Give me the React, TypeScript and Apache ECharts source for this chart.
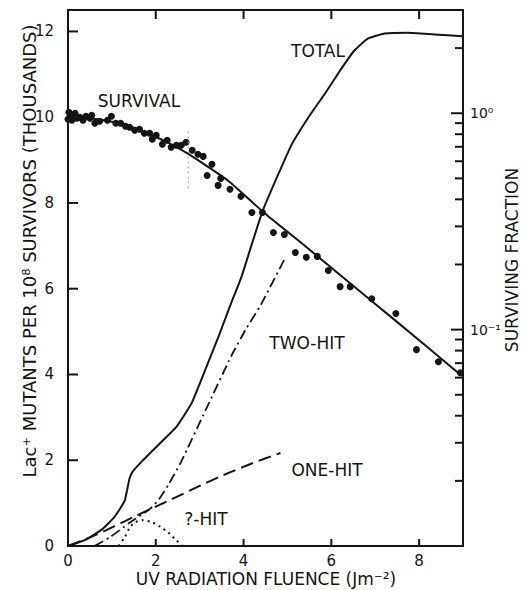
import React, { useEffect, useRef } from "react";
import * as echarts from "echarts";

const FONT = '"DejaVu Sans", "Liberation Sans", sans-serif';
const INK = "#151515";

// axis ticks
const xTickValues = [0, 2, 4, 6, 8];
const leftTickValues = [0, 2, 4, 6, 8, 10, 12];
const rightMajorTicks = [0.01, 0.1, 1];
const rightMinorTicks = [2, 0.9, 0.8, 0.7, 0.6, 0.5, 0.4, 0.3, 0.2, 0.09, 0.08, 0.07, 0.06, 0.05, 0.04, 0.03, 0.02];

// mutants per 1e8 survivors (thousands) vs fluence (J m^-2)
const totalCurve = [
  [0, 0], [0.43, 0.16], [0.79, 0.4], [1.06, 0.68], [1.29, 1.05], [1.4, 1.57], [1.47, 1.73],
  [1.7, 1.99], [2.08, 2.38], [2.47, 2.78], [2.71, 3.15], [2.83, 3.36], [3.14, 4.14], [3.44, 4.91],
  [3.73, 5.7], [3.94, 6.24], [4.43, 7.8], [5.09, 9.35], [5.48, 10.0], [5.86, 10.56], [6.22, 11.12],
  [6.52, 11.55], [6.83, 11.83], [7.22, 11.95], [7.74, 11.97], [8.35, 11.93], [8.98, 11.89],
];
const twoHitCurve = [
  [0.6, 0], [0.95, 0.2], [1.4, 0.54], [1.86, 0.86], [2.08, 1.1], [2.3, 1.45], [2.58, 1.97],
  [3.14, 3.18], [3.73, 4.45], [4.05, 5.05], [4.39, 5.62], [4.95, 6.72],
];
const oneHitCurve = [
  [0, 0], [0.6, 0.24], [1.5, 0.68], [2.3, 1.06], [3.0, 1.4], [3.6, 1.68], [4.2, 1.93], [4.84, 2.17],
];
const qHitCurve = [
  [1.15, 0], [1.3, 0.22], [1.42, 0.45], [1.55, 0.56], [1.7, 0.6], [1.9, 0.56], [2.1, 0.45],
  [2.3, 0.3], [2.45, 0.15], [2.6, 0.02],
];
const markerBar = [[2.74, 8.34], [2.74, 9.74]];

// surviving fraction (log scale)
const survivalCurve = [
  [0, 0.968], [0.5, 0.948], [0.95, 0.918], [1.4, 0.871], [1.86, 0.8], [2.31, 0.726], [2.76, 0.646],
  [3.21, 0.562], [3.67, 0.484], [4.46, 0.348], [5.25, 0.258], [6.38, 0.167], [7.51, 0.108], [8.94, 0.0619],
];
const survivalPoints = [
  [0.02, 1.01], [0.0, 0.938], [0.05, 0.979], [0.09, 0.928], [0.16, 1.0], [0.2, 0.948], [0.27, 0.958],
  [0.34, 0.928], [0.41, 0.969], [0.5, 0.948], [0.54, 0.979], [0.61, 0.899], [0.72, 0.918], [0.9, 0.928],
  [0.99, 0.969], [1.09, 0.899], [1.2, 0.899], [1.31, 0.871], [1.4, 0.861], [1.52, 0.834], [1.63, 0.843],
  [1.74, 0.808], [1.86, 0.808], [1.92, 0.758], [2.01, 0.791], [2.15, 0.719], [2.26, 0.75], [2.35, 0.696],
  [2.47, 0.711], [2.58, 0.711], [2.69, 0.734], [2.83, 0.674], [2.96, 0.646], [3.08, 0.632], [3.17, 0.516],
  [3.28, 0.581], [3.42, 0.464], [3.48, 0.5], [3.69, 0.445], [3.94, 0.413], [4.19, 0.348], [4.43, 0.348],
  [4.68, 0.281], [4.93, 0.275], [5.18, 0.227], [5.43, 0.216], [5.68, 0.218], [5.93, 0.1875], [6.2, 0.158],
  [6.43, 0.158], [6.92, 0.139], [7.47, 0.1186], [7.94, 0.0808], [8.44, 0.0711], [8.94, 0.0632],
];

const annotations = [
  { text: "SURVIVAL", x: 139, y: 101 },
  { text: "TOTAL", x: 318, y: 51 },
  { text: "TWO-HIT", x: 307, y: 343 },
  { text: "ONE-HIT", x: 327, y: 470 },
  { text: "?-HIT", x: 206, y: 519 },
];

const X_MAX = 9;
const LEFT_MAX = 12.5;

const near = (v: number, t: number) => Math.abs(v - t) < 1e-6 * Math.max(1, Math.abs(t));

// a custom series that draws inward tick marks at data positions
function tickSeries(name: string, yAxisIndex: number, data: number[][], dx: number, dy: number, w: number, h: number) {
  return {
    type: "custom",
    name,
    xAxisIndex: 0,
    yAxisIndex,
    silent: true,
    clip: false,
    z: 10,
    data,
    renderItem: (_p: any, api: any) => {
      const pt = api.coord([api.value(0), api.value(1)]);
      return {
        type: "rect",
        shape: { x: pt[0] + dx, y: pt[1] + dy, width: w, height: h },
        style: { fill: INK },
      };
    },
  };
}

export default function App() {
  const ref = useRef<HTMLDivElement>(null);
  useEffect(() => {
    document.body.style.margin = "0";
    const chart = echarts.init(ref.current!, null, { renderer: "svg" });
    const lineBase = {
      type: "line",
      showSymbol: false,
      symbol: "none",
      silent: true,
      xAxisIndex: 0,
    };
    const axisLine = { show: true, onZero: false, lineStyle: { color: INK, width: 2 } };
    chart.setOption({
      animation: false,
      backgroundColor: "#ffffff",
      textStyle: { fontFamily: FONT, color: INK },
      grid: { left: 68, right: 66, top: 10, bottom: 44, containLabel: false, outerBoundsMode: "none" },
      xAxis: [
        {
          type: "value",
          min: 0,
          max: X_MAX,
          interval: 2,
          position: "bottom",
          splitLine: { show: false },
          axisLine,
          axisTick: { show: false },
          axisLabel: {
            margin: 7,
            fontSize: 15,
            fontFamily: FONT,
            color: INK,
            formatter: (v: number) => (xTickValues.some((t) => near(v, t)) ? String(v) : ""),
          },
        },
        {
          type: "value",
          min: 0,
          max: X_MAX,
          interval: 2,
          position: "top",
          splitLine: { show: false },
          axisLine,
          axisTick: { show: false },
          axisLabel: { show: false },
        },
      ],
      yAxis: [
        {
          type: "value",
          min: 0,
          max: LEFT_MAX,
          interval: 2,
          position: "left",
          splitLine: { show: false },
          axisLine,
          axisTick: { show: false },
          axisLabel: {
            margin: 14,
            fontSize: 15,
            fontFamily: FONT,
            color: INK,
            formatter: (v: number) => (leftTickValues.some((t) => near(v, t)) ? String(v) : ""),
          },
        },
        {
          type: "log",
          logBase: 10,
          min: 0.01,
          max: 3,
          position: "right",
          splitLine: { show: false },
          axisLine,
          axisTick: { show: false },
          axisLabel: {
            margin: 7,
            fontSize: 14,
            fontFamily: FONT,
            color: INK,
            formatter: (v: number) => {
              if (near(v, rightMajorTicks[2])) return "10⁰";
              if (near(v, rightMajorTicks[1])) return "10⁻¹";
              return "";
            },
          },
        },
      ],
      graphic: [
        ...annotations.map((a) => ({
          type: "text",
          x: a.x,
          y: a.y,
          silent: true,
          style: { text: a.text, fill: INK, font: `17px ${FONT}`, textAlign: "center", textVerticalAlign: "middle" },
        })),
        {
          type: "text",
          x: 266,
          y: 579,
          silent: true,
          style: { text: "UV RADIATION FLUENCE (Jm⁻²)", fill: INK, font: `17px ${FONT}`, textAlign: "center", textVerticalAlign: "middle" },
        },
        {
          type: "text",
          x: 29,
          y: 251,
          rotation: Math.PI / 2,
          silent: true,
          style: { text: "Lac⁺ MUTANTS PER 10⁸ SURVIVORS (THOUSANDS)", fill: INK, font: `18px ${FONT}`, textAlign: "center", textVerticalAlign: "middle" },
        },
        {
          type: "text",
          x: 512,
          y: 260,
          rotation: Math.PI / 2,
          silent: true,
          style: { text: "SURVIVING FRACTION", fill: INK, font: `17px ${FONT}`, textAlign: "center", textVerticalAlign: "middle" },
        },
      ],
      series: [
        { ...lineBase, name: "TOTAL", yAxisIndex: 0, data: totalCurve, smooth: 0.15, lineStyle: { color: INK, width: 2 } },
        { ...lineBase, name: "TWO-HIT", yAxisIndex: 0, data: twoHitCurve, smooth: 0.2, lineStyle: { color: INK, width: 1.8, type: [10, 4, 2, 4] } },
        { ...lineBase, name: "ONE-HIT", yAxisIndex: 0, data: oneHitCurve, smooth: 0.2, lineStyle: { color: INK, width: 2, type: [13, 6] } },
        { ...lineBase, name: "?-HIT", yAxisIndex: 0, data: qHitCurve, smooth: 0.3, lineStyle: { color: INK, width: 2, type: [2, 4] } },
        { ...lineBase, name: "marker", yAxisIndex: 0, data: markerBar, lineStyle: { color: "#9a9a9a", width: 1, type: [2, 3] } },
        { ...lineBase, name: "SURVIVAL", yAxisIndex: 1, data: survivalCurve, smooth: 0.2, lineStyle: { color: INK, width: 2 } },
        {
          type: "scatter",
          name: "survival data",
          xAxisIndex: 0,
          yAxisIndex: 1,
          data: survivalPoints,
          symbol: "circle",
          symbolSize: 7,
          silent: true,
          itemStyle: { color: INK, opacity: 1 },
        },
        tickSeries("bottom ticks", 0, xTickValues.filter((v) => v > 0).map((v) => [v, 0]), -1, -7, 2, 7),
        tickSeries("top ticks", 0, xTickValues.filter((v) => v > 0).map((v) => [v, LEFT_MAX]), -1, 0, 2, 9),
        tickSeries("left ticks", 0, leftTickValues.filter((v) => v > 0).map((v) => [0, v]), 0, -1, 10, 2),
        tickSeries("right major ticks", 1, rightMajorTicks.filter((v) => v > 0.01).map((v) => [X_MAX, v]), -12, -1, 12, 2),
        tickSeries("right minor ticks", 1, rightMinorTicks.map((v) => [X_MAX, v]), -8, -1, 8, 2),
      ],
    });
    return () => chart.dispose();
  }, []);
  return <div ref={ref} style={{ position: "absolute", left: 0, top: 0, width: 529, height: 590 }} />;
}
